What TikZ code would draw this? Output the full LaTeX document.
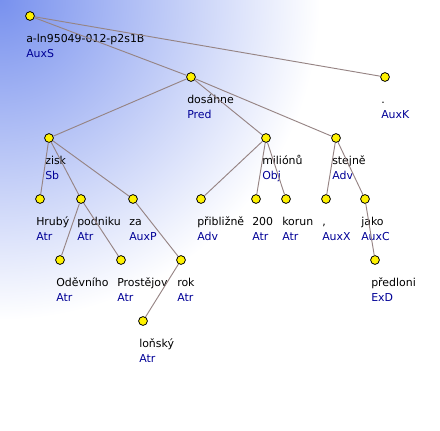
\documentclass[tikz,border=0pt]{standalone}
\usepackage{fontspec}
\setmainfont{DejaVu Sans}
\definecolor{cornerblue}{RGB}{120,145,238}
\definecolor{edgegray}{RGB}{150,132,132}
\definecolor{funcblue}{RGB}{0,0,150}
\pgfdeclareradialshading{cornerfade}{\pgfpoint{0bp}{0bp}}{color(0bp)=(cornerblue); color(25bp)=(white); color(50bp)=(white)}

\begin{document}
\begin{tikzpicture}[x=0.75pt,y=-0.75pt,
  tnode/.style={circle,draw=black,fill=yellow,line width=0.6pt,inner sep=0pt,minimum size=6.6pt},
  word/.style={anchor=base west,inner sep=0pt,font=\fontsize{8.2}{9.8}\selectfont},
  func/.style={word,text=funcblue},
  branch/.style={draw=edgegray,line width=0.7pt}]

\useasboundingbox (0,0) rectangle (440,430);
\begin{scope}
\clip (0,0) rectangle (440,430);
\shade[shading=cornerfade] (0,0) circle (320);
\end{scope}

% tree nodes with their word and function
\foreach \n/\x/\y/\w/\f in {
    root/30/16/a-ln95049-012-p2s1B/AuxS,
    dosahne/191/77/dosáhne/Pred,
    auxk/385/77/./AuxK,
    zisk/49/138/zisk/Sb,
    milionu/266/138/miliónů/Obj,
    stejne/336/138/stejně/Adv,
    hruby/40/199/Hrubý/Atr,
    podniku/81/199/podniku/Atr,
    za/133/199/za/AuxP,
    priblizne/201/199/přibližně/Adv,
    dvesta/256/199/200/Atr,
    korun/286/199/korun/Atr,
    carka/326/199/{,}/AuxX,
    jako/365/199/jako/AuxC,
    odevniho/60/260/Oděvního/Atr,
    prostejov/121/260/Prostějov/Atr,
    rok/181/260/rok/Atr,
    predloni/375/260/předloni/ExD,
    lonsky/143/321/loňský/Atr}
{
    \node[tnode] (\n) at (\x,\y) {};
    \node[word] (w-\n) at (\x-4,\y+26) {\w};
    \node[func] (f-\n) at (\x-4,\y+41) {\f};
}

\foreach \a/\b in {root/dosahne, root/auxk,
    dosahne/zisk, dosahne/milionu, dosahne/stejne,
    zisk/hruby, zisk/podniku, zisk/za,
    podniku/odevniho, podniku/prostejov, za/rok, rok/lonsky,
    milionu/priblizne, milionu/dvesta, milionu/korun,
    stejne/carka, stejne/jako, jako/predloni}
    \draw[branch] (\a) -- (\b);

\end{tikzpicture}
\end{document}
